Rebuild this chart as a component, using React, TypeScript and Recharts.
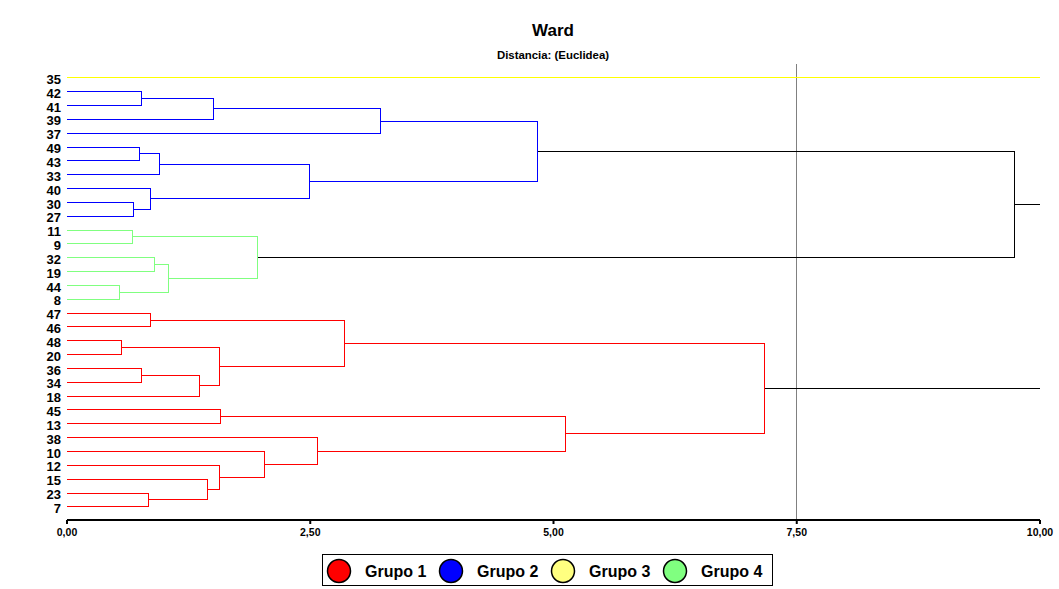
import React from 'react';
import { ComposedChart, Scatter, XAxis, YAxis, ReferenceLine } from 'recharts';

// Leaves, top to bottom
const leafLabels = [
  '35', '42', '41', '39', '37', '49', '43', '33', '40', '30', '27',
  '11', '9', '32', '19', '44', '8',
  '47', '46', '48', '20', '36', '34', '18', '45', '13', '38', '10', '12', '15', '23', '7',
];

// Merges: node id of merge k is leafLabels.length + k
const mergeLeft = [1, 32, 33, 5, 35, 9, 8, 36, 34, 11, 13, 15, 42, 41, 40, 17, 19, 21, 49, 48, 47, 24, 30, 29, 28, 27, 26, 53, 52];
const mergeRight = [2, 3, 4, 6, 7, 10, 37, 38, 39, 12, 14, 16, 43, 44, 45, 18, 20, 22, 23, 50, 51, 25, 31, 54, 55, 56, 57, 58, 59];
const mergeHeight = [0.77, 1.51, 3.22, 0.74, 0.95, 0.68, 0.86, 2.49, 4.84, 0.675, 0.9, 0.54, 1.045, 1.96, 9.74, 0.86, 0.56, 0.77, 1.36, 1.57, 2.85, 1.58, 0.84, 1.44, 1.57, 2.03, 2.57, 5.12, 7.17];
const mergeGroup = [2, 2, 2, 2, 2, 2, 2, 2, 2, 4, 4, 4, 4, 4, 0, 1, 1, 1, 1, 1, 1, 1, 1, 1, 1, 1, 1, 1, 1];

// Branches that run to the right edge without joining
const tailNodes = [0, 46, 60];
const tailGroup = [3, 0, 0];
const tailEnd = 10;

const xTicks = [0, 2.5, 5, 7.5, 10];
const cutHeight = 7.5;

const groupNames = ['Grupo 1', 'Grupo 2', 'Grupo 3', 'Grupo 4'];
const lineColors = ['#000000', '#ff0000', '#0000ff', '#ffff00', '#80ff80'];
const legendColors = ['#ff0000', '#0000ff', '#ffff80', '#80ff80'];

type Pt = { x: number; y: number };

function buildSegments() {
  const n = leafLabels.length;
  const pos: Pt[] = leafLabels.map((_, i) => ({ x: 0, y: i }));
  const segs: { pts: Pt[]; color: string }[] = [];
  mergeLeft.forEach((l, k) => {
    const r = mergeRight[k];
    const h = mergeHeight[k];
    const a = pos[l];
    const b = pos[r];
    segs.push({
      pts: [
        { x: a.x, y: a.y },
        { x: h, y: a.y },
        { x: h, y: b.y },
        { x: b.x, y: b.y },
      ],
      color: lineColors[mergeGroup[k]],
    });
    pos[n + k] = { x: h, y: (a.y + b.y) / 2 };
  });
  tailNodes.forEach((t, i) => {
    const p = pos[t];
    segs.push({ pts: [{ x: p.x, y: p.y }, { x: tailEnd, y: p.y }], color: lineColors[tailGroup[i]] });
  });
  return segs;
}

const segments = buildSegments();
const leafTicks = leafLabels.map((_, i) => i);
const FONT = "Arial, 'Liberation Sans', sans-serif";
const noShape = () => <g />;

export default function App() {
  return (
    <div style={{ position: 'absolute', left: 0, top: 0, width: 1059, height: 589, background: '#fff' }}>
      <ComposedChart width={1059} height={589} margin={{ top: 64, right: 19, bottom: 49, left: 7 }}>
        <XAxis
          type="number"
          dataKey="x"
          domain={[0, 10]}
          ticks={xTicks}
          allowDataOverflow
          tickFormatter={(v: number) => v.toFixed(2).replace('.', ',')}
          axisLine={{ stroke: '#000', strokeWidth: 2 }}
          tickLine={{ stroke: '#000', strokeWidth: 2 }}
          tickSize={4}
          tickMargin={5}
          height={20}
          tick={{ fontSize: 10.5, fontWeight: 'bold', fill: '#000', fontFamily: FONT }}
        />
        <YAxis
          type="number"
          dataKey="y"
          domain={[-1, 31.95]}
          reversed
          allowDataOverflow
          ticks={leafTicks}
          interval={0}
          tickFormatter={(v: number) => leafLabels[v] ?? ''}
          axisLine={false}
          tickLine={false}
          tickSize={4}
          tickMargin={2}
          width={60}
          tick={{ fontSize: 13, fontWeight: 'bold', fill: '#000', fontFamily: FONT, dy: 1.5 }}
        />
        {segments.map((s, i) => (
          <Scatter
            key={i}
            data={s.pts}
            fill={s.color}
            line={{ stroke: s.color, strokeWidth: 1, shapeRendering: 'crispEdges' }}
            lineType="joint"
            shape={noShape}
            isAnimationActive={false}
            legendType="none"
          />
        ))}
        <ReferenceLine x={cutHeight} stroke="#808080" strokeWidth={1} shapeRendering="crispEdges" />
      </ComposedChart>
      <svg width={1059} height={589} style={{ position: 'absolute', left: 0, top: 0, pointerEvents: 'none' }}>
        <text x={553} y={36} textAnchor="middle" fontFamily={FONT} fontSize={17} fontWeight="bold" fill="#000">
          Ward
        </text>
        <text x={553} y={59} textAnchor="middle" fontFamily={FONT} fontSize={11.4} fontWeight="bold" fill="#000">
          Distancia: (Euclidea)
        </text>
        <rect x={322.5} y={554.5} width={450} height={31} fill="#fff" stroke="#000" strokeWidth={1} />
        {groupNames.map((g, i) => (
          <g key={g}>
            <circle cx={339 + 112 * i} cy={571} r={11.5} fill={legendColors[i]} stroke="#000" strokeWidth={1.5} />
            <text x={365 + 112 * i} y={576.5} fontFamily={FONT} fontSize={16} fontWeight="bold" fill="#000">
              {g}
            </text>
          </g>
        ))}
      </svg>
    </div>
  );
}
